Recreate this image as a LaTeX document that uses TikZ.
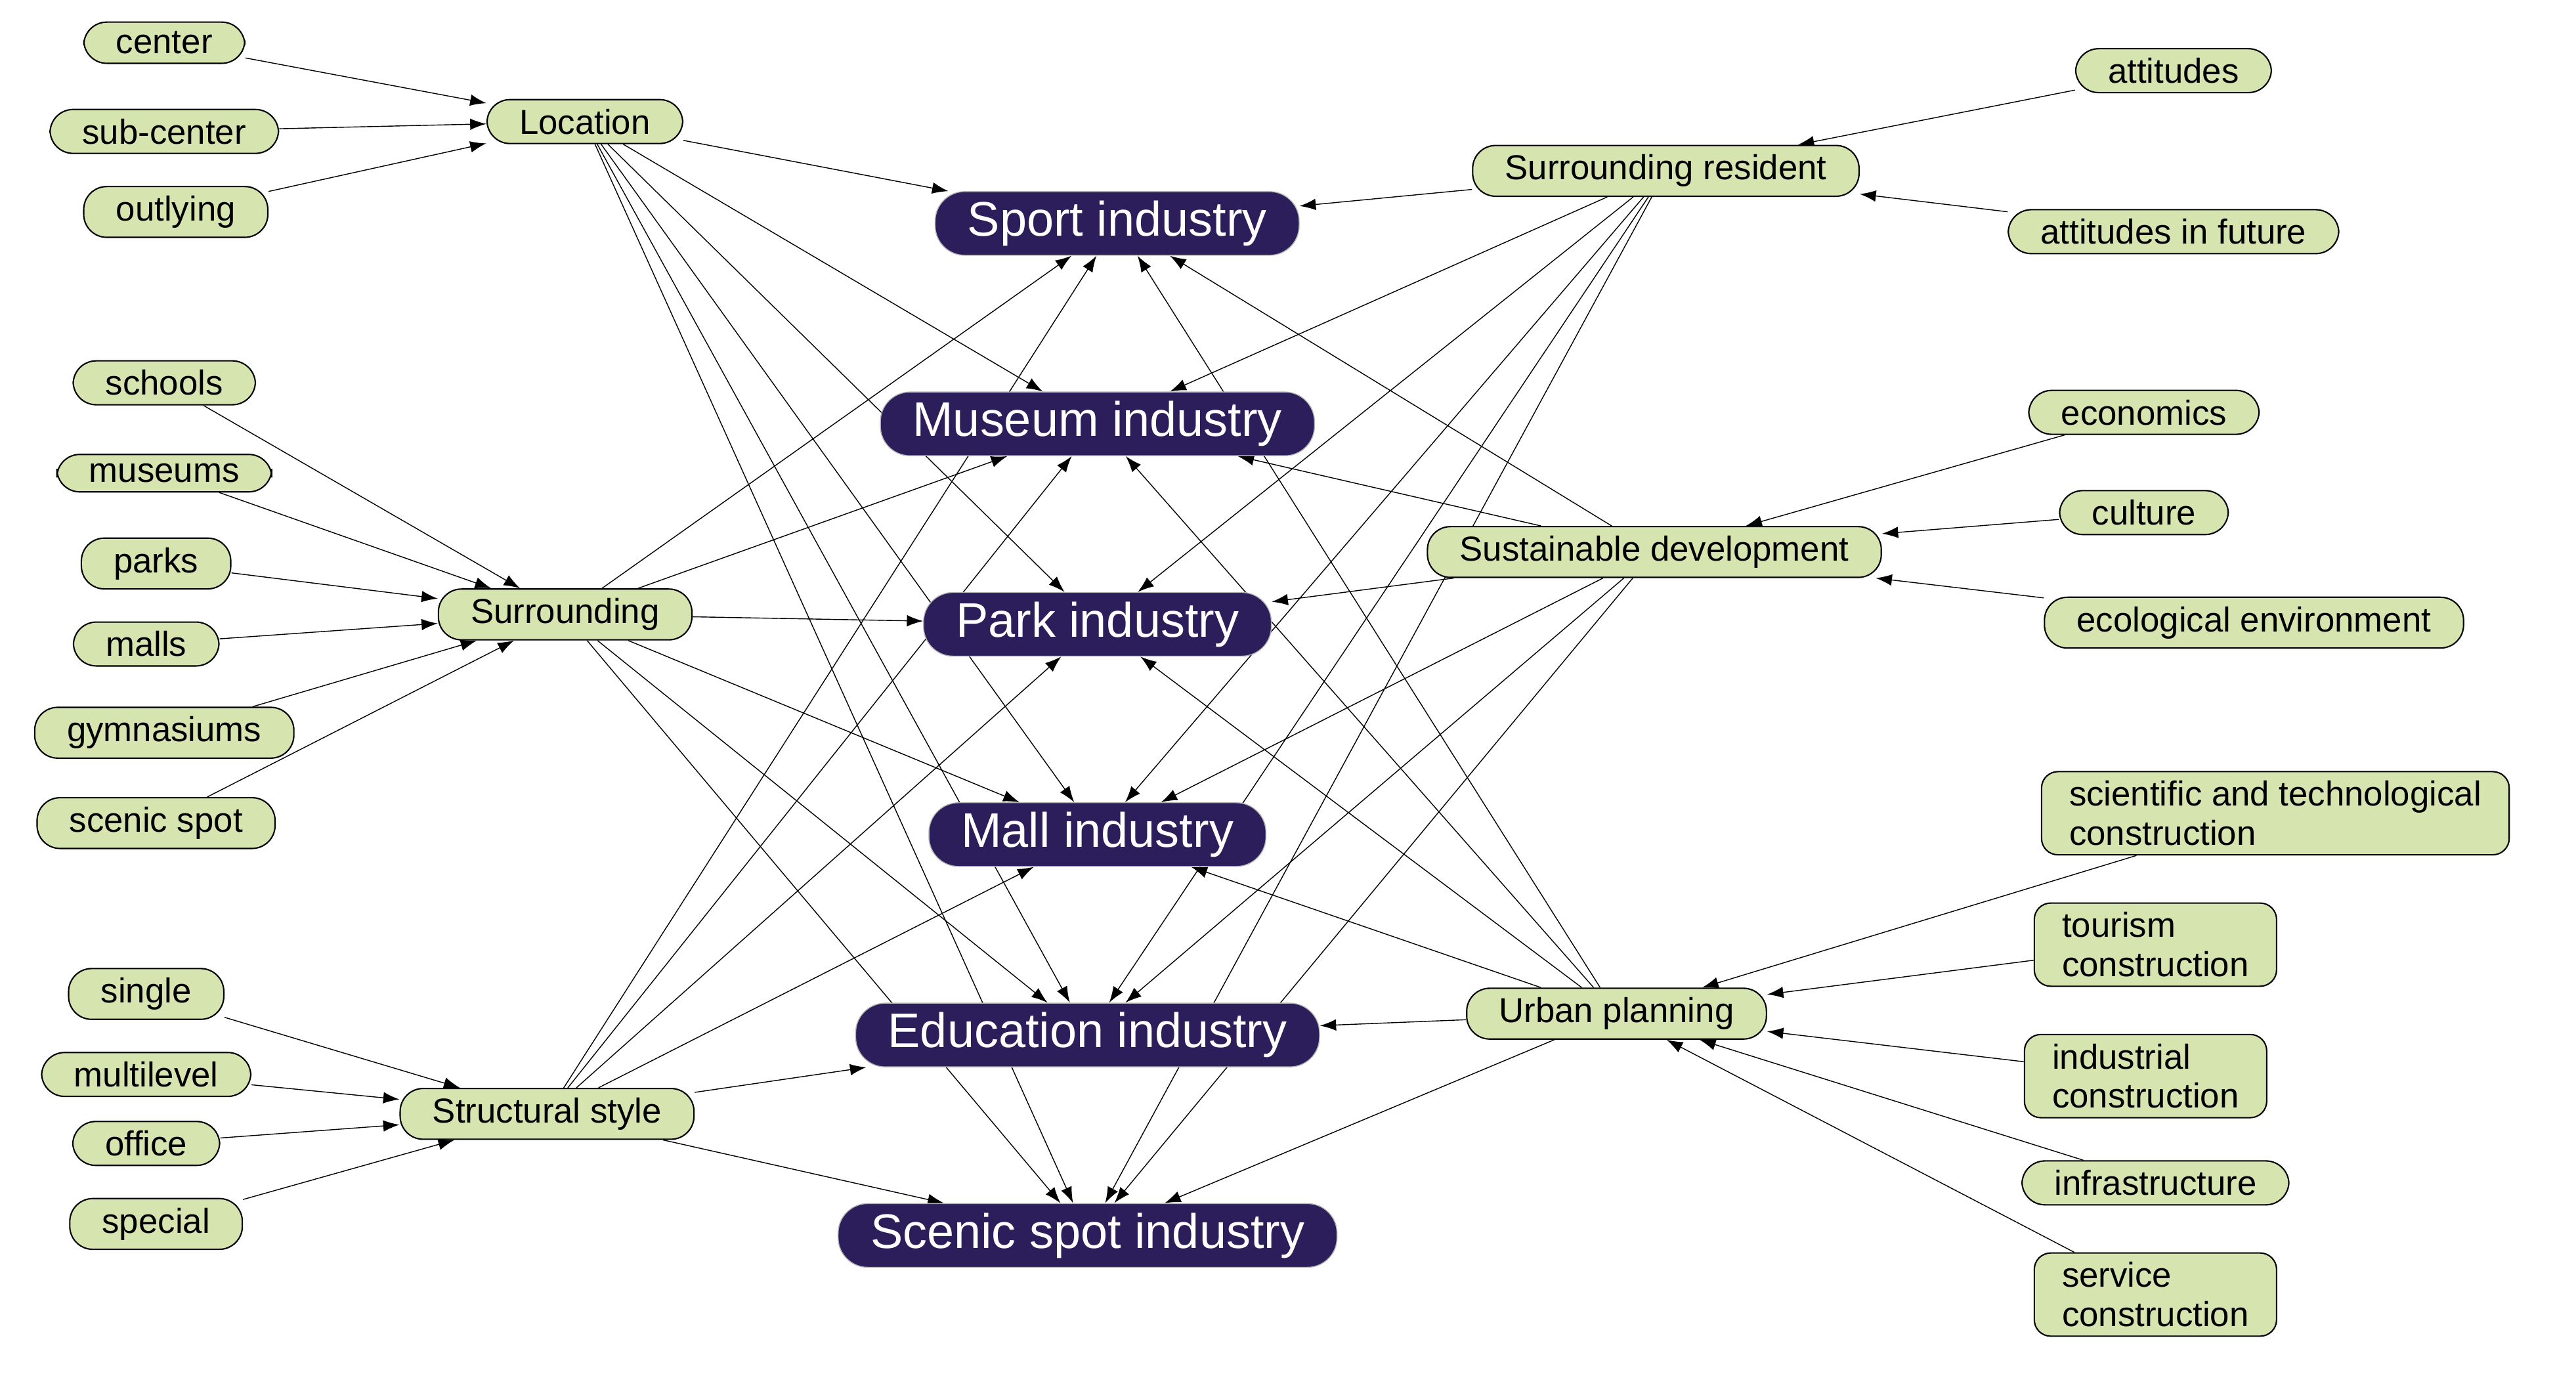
\documentclass[tikz,border=0pt]{standalone}
\usepackage{fontspec}
\setmainfont{Liberation Sans}
\usetikzlibrary{arrows.meta,backgrounds}
\definecolor{gr}{RGB}{214,228,176}
\definecolor{pu}{RGB}{44,30,90}
\begin{document}
\begin{tikzpicture}[x=0.025cm,y=-0.025cm,
 g/.style={draw=black,fill=gr,rounded corners=0.35cm,font=\fontsize{15}{17}\selectfont,inner xsep=14pt,inner ysep=4pt,line width=0.6pt},
 gm/.style={g,align=left,rounded corners=0.25cm,inner xsep=12pt},
 p/.style={draw=gray!60,fill=pu,text=white,rounded corners=0.45cm,font=\fontsize{21}{24}\selectfont,inner xsep=14pt,inner ysep=4pt},
 e/.style={-{Latex[length=7pt,width=5pt]},line width=0.4pt}]
\useasboundingbox (0,0) rectangle (1568,836);
\node[g] (center) at (100,26) {center};
\node[g] (subc) at (100,80) {sub-center};
\node[g] (outl) at (107,129) {outlying};
\node[g] (loc) at (356,74) {Location};
\node[g] (sch) at (100,233) {schools};
\node[g] (mus) at (100,288) {museums};
\node[g] (par) at (95,343) {parks};
\node[g] (mal) at (89,392) {malls};
\node[g] (gym) at (100,446) {gymnasiums};
\node[g] (scs) at (95,501) {scenic spot};
\node[g] (sur) at (344,374) {Surrounding};
\node[g] (sin) at (89,605) {single};
\node[g] (mul) at (89,654) {multilevel};
\node[g] (off) at (89,696) {office};
\node[g] (spe) at (95,745) {special};
\node[g] (str) at (333,678) {Structural style};
\node[p] (I1) at (680,136) {Sport industry};
\node[p] (I2) at (668,258) {Museum industry};
\node[p] (I3) at (668,380) {Park industry};
\node[p] (I4) at (668,508) {Mall industry};
\node[p] (I5) at (662,630) {Education industry};
\node[p] (I6) at (662,752) {Scenic spot industry};
\node[g] (res) at (1014,104) {Surrounding resident};
\node[g] (att) at (1323,43) {attitudes};
\node[g] (atf) at (1323,141) {attitudes in future};
\node[g] (sus) at (1007,336) {Sustainable development};
\node[g] (eco) at (1305,251) {economics};
\node[g] (cul) at (1305,312) {culture};
\node[g] (env) at (1372,379) {ecological environment};
\node[g] (urb) at (984,617) {Urban planning};
\node[gm] (sci) at (1385,495) {scientific and technological\\construction};
\node[gm] (tou) at (1312,575) {tourism\\construction};
\node[gm] (ind) at (1306,655) {industrial\\construction};
\node[g] (inf) at (1312,720) {infrastructure};
\node[gm] (ser) at (1312,788) {service\\construction};
\begin{scope}[on background layer]
\foreach \a in {center,subc,outl} \draw[e] (\a) -- (loc);
\foreach \a in {sch,mus,par,mal,gym,scs} \draw[e] (\a) -- (sur);
\foreach \a in {sin,mul,off,spe} \draw[e] (\a) -- (str);
\foreach \a in {att,atf} \draw[e] (\a) -- (res);
\foreach \a in {eco,cul,env} \draw[e] (\a) -- (sus);
\foreach \a in {sci,tou,ind,inf,ser} \draw[e] (\a) -- (urb);
\foreach \c in {loc,sur,str,res,sus,urb}
  \foreach \i in {I1,I2,I3,I4,I5,I6} \draw[e] (\c) -- (\i);
\end{scope}
\end{tikzpicture}
\end{document}
